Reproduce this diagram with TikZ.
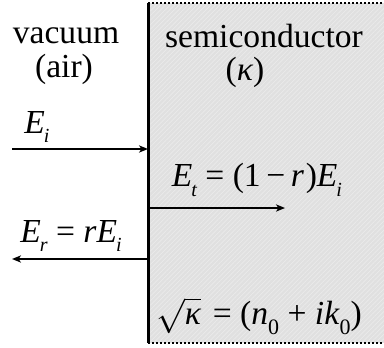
\documentclass[tikz,border=0pt]{standalone}
\usepackage{fontspec}
\setmainfont{Liberation Serif}
\usetikzlibrary{arrows.meta,patterns.meta}
\newcommand\sbs[1]{\raisebox{-0.28em}{\fontsize{10}{10}\selectfont\itshape #1}}
\newcommand\EE[1]{\textit{E}\kern-0.03em\sbs{#1}}
\begin{document}
\begin{tikzpicture}[x=0.5pt,y=-0.5pt,
  txt/.style={inner sep=0pt,font=\fontsize{16.8}{20}\selectfont},
  ray/.style={line width=0.75pt,-{Stealth[length=4.5pt,width=3.6pt,inset=1.2pt]}}]
\useasboundingbox (0,0) rectangle (384,347);
% semiconductor region
\fill[gray!24] (148,3) rectangle (386,343);
\fill[pattern={Lines[angle=45,distance=1.6pt,line width=0.35pt]},pattern color=white,opacity=0.35] (148,3) rectangle (386,343);
\draw[line width=1pt,dash pattern=on 1.2pt off 0.8pt] (148,3.5) -- (386,3.5);
\draw[line width=1pt,dash pattern=on 1.2pt off 0.8pt] (148,342.5) -- (386,342.5);
\draw[line width=1.5pt] (148,3) -- (148,343);
% labels
\node[txt] (vac) at (66,36) {vacuum};
\node[txt] (air) at (64,69) {(air)};
\node[txt] (sc) at (264,36) {semiconductor};
\node[txt] (kap) at (245,72) {(\textit{κ})};
\node[txt] (ei) at (37,127) {\EE{i}};
\node[txt] (et) at (257,180) {\EE{t} = (1\,−\,\textit{r}\kern0.05em)\EE{i}};
\node[txt] (er) at (71,236) {\EE{r} = \textit{rE}\kern-0.03em\sbs{i}};
\node[txt] (sq) at (259,316) {$\sqrt{\hbox{\itshape κ}}$\kern0.1em{} = (\textit{n}\raisebox{-0.28em}{\fontsize{11}{11}\selectfont 0} + \textit{ik}\raisebox{-0.28em}{\fontsize{11}{11}\selectfont 0})};
% rays
\coordinate (a1) at (12,149);
\coordinate (b1) at (148,149);
\coordinate (a2) at (148,208);
\coordinate (b2) at (285,208);
\coordinate (a3) at (148,259);
\coordinate (b3) at (12,259);
\draw[ray] (a1) -- (b1);
\draw[ray] (a2) -- (b2);
\draw[ray] (a3) -- (b3);
\end{tikzpicture}
\end{document}
